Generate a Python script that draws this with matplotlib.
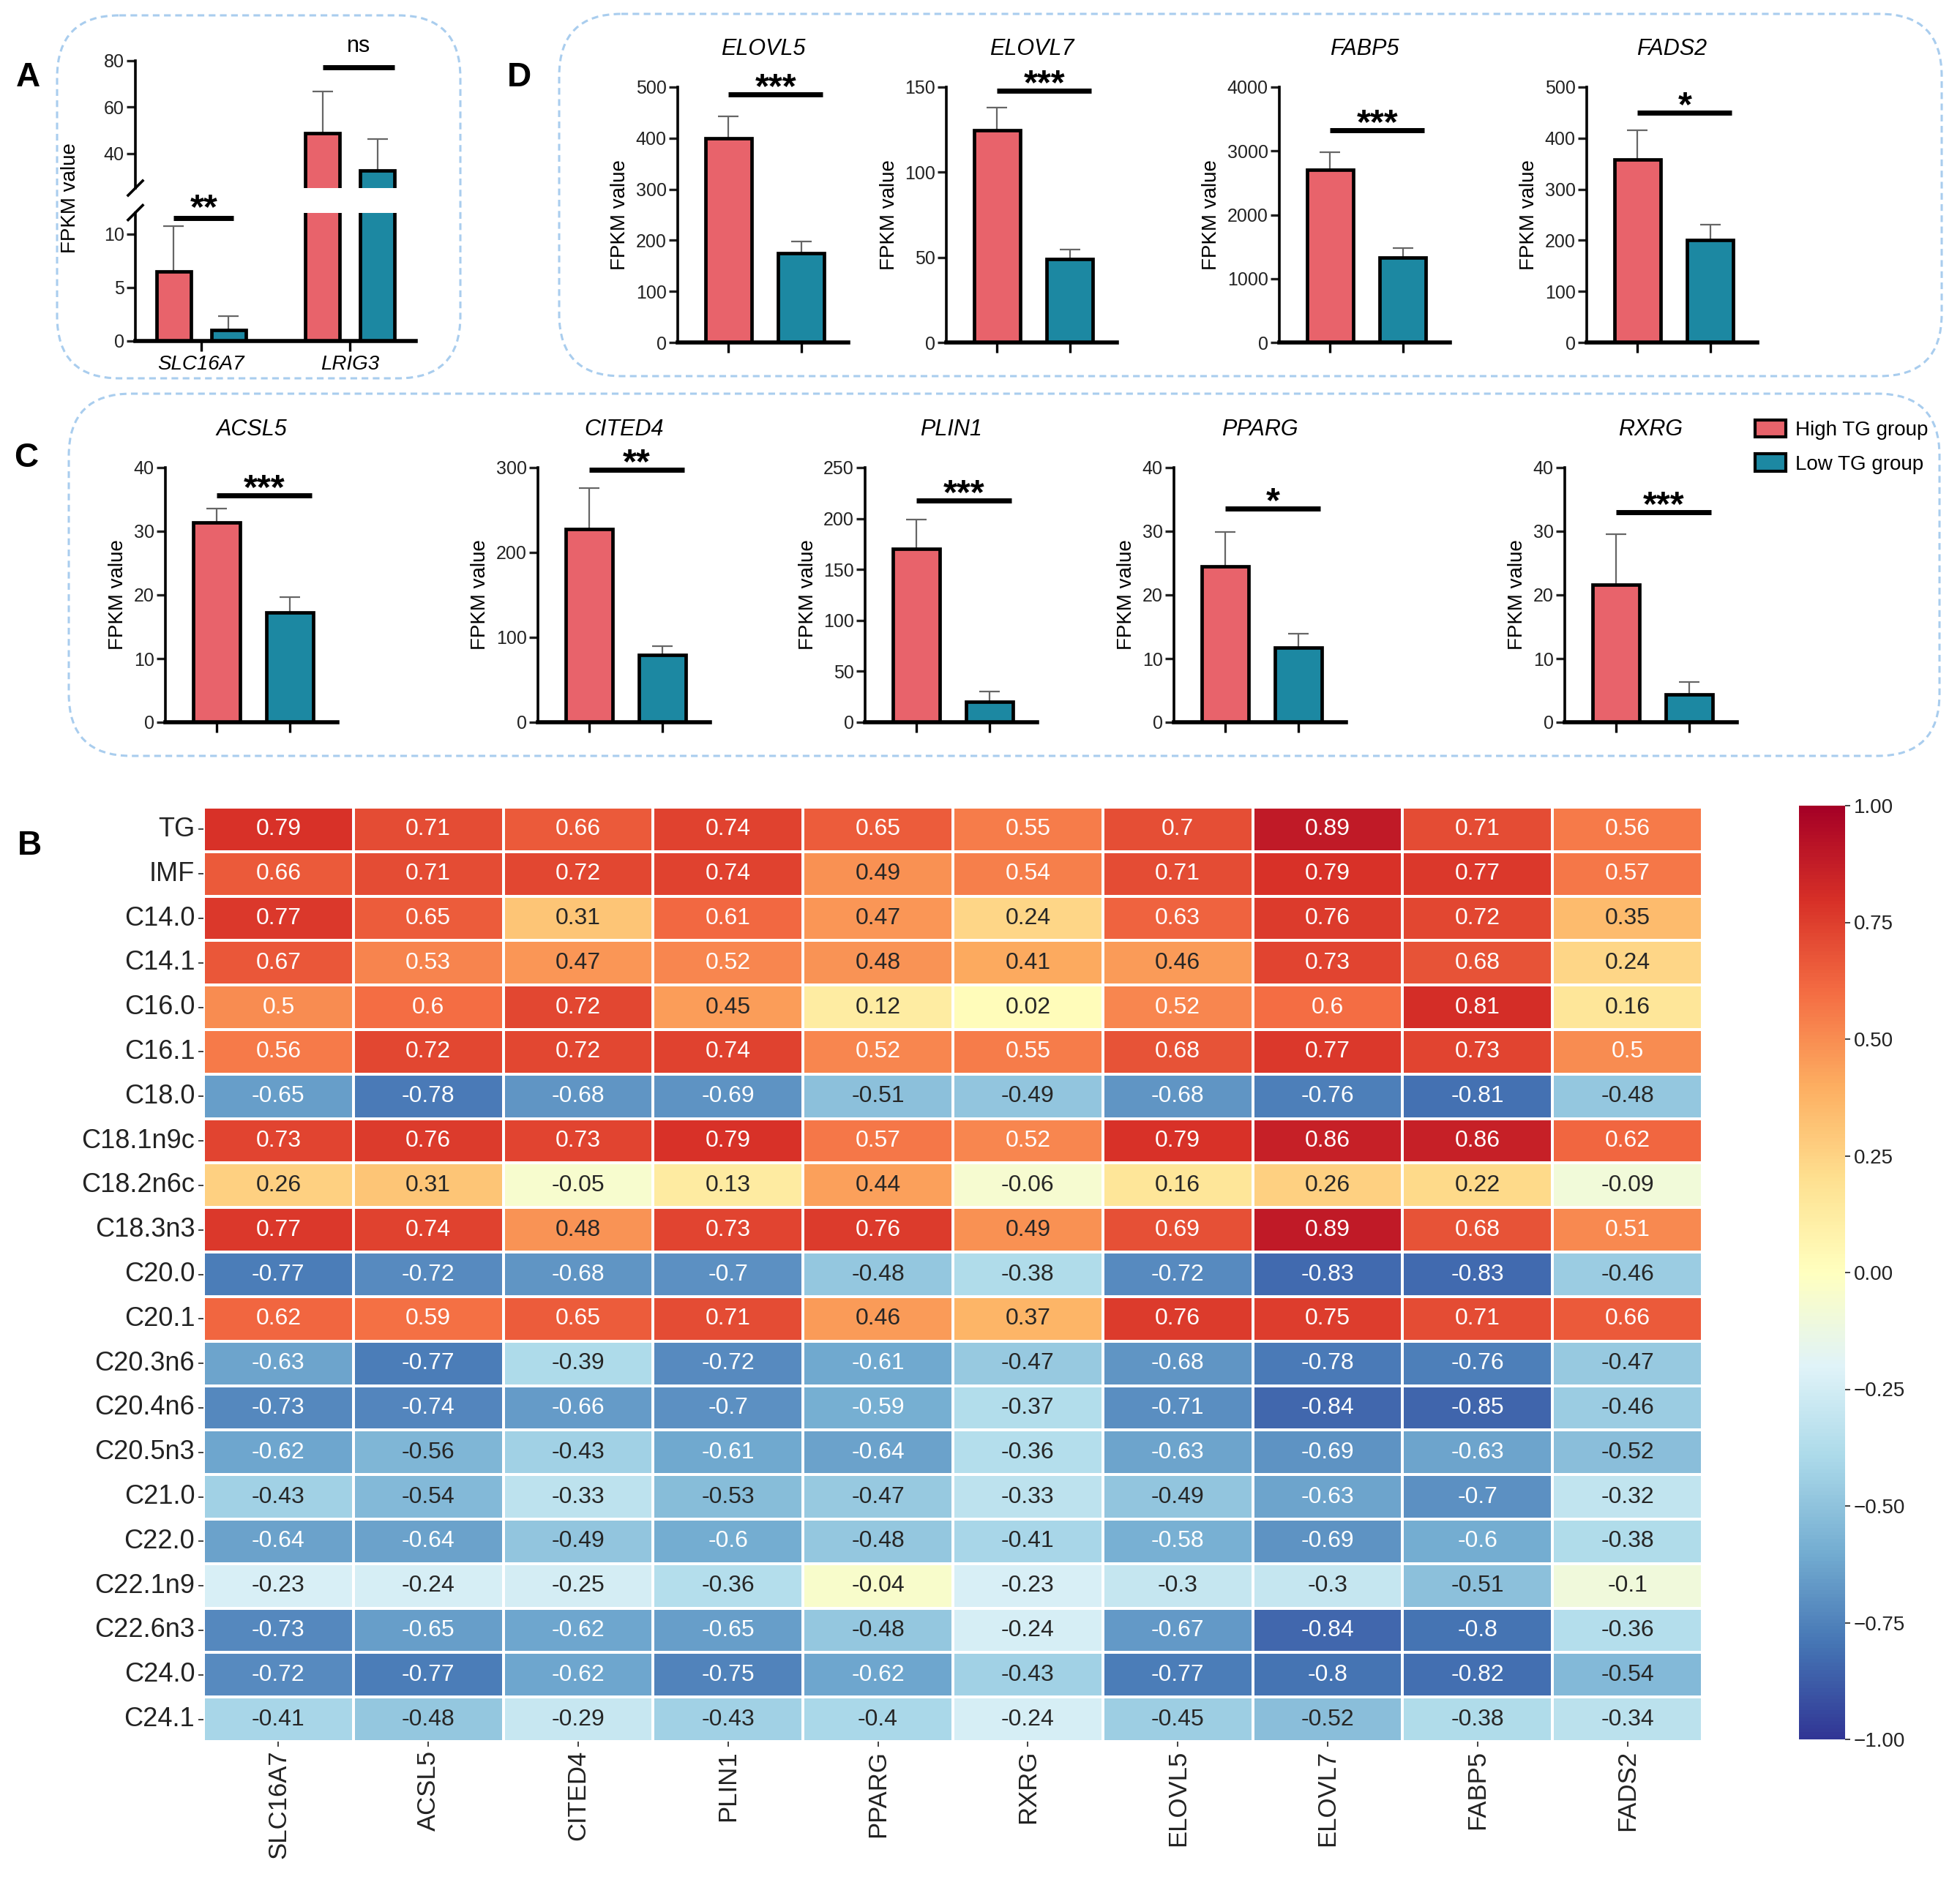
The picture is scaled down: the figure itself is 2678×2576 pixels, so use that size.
import numpy as np
import pandas as pd
import matplotlib
matplotlib.use('Agg')
import matplotlib.pyplot as plt
import seaborn as sns
from matplotlib.patches import FancyBboxPatch, Patch

plt.rcParams['font.family'] = ['Liberation Sans', 'DejaVu Sans']

RED = '#E8636B'
TEAL = '#1C88A2'
BOX = '#A9CDEE'

# ---- panel A: SLC16A7 / LRIG3 (broken axis)
genes_A = ['SLC16A7', 'LRIG3']
high_A = [6.5, 48.7]
high_err_A = [4.2, 17.9]
low_A = [1.0, 32.7]
low_err_A = [1.3, 13.5]

# ---- panel D
genes_D = ['ELOVL5', 'ELOVL7', 'FABP5', 'FADS2']
high_D = [400, 124.5, 2700, 358]
high_err_D = [42, 13.5, 285, 58]
low_D = [175, 49, 1325, 201]
low_err_D = [22, 5.5, 150, 30]
ymax_D = [500, 150, 4000, 500]
ystep_D = [100, 50, 1000, 100]
sig_D = ['***', '***', '***', '*']
sig_y_D = [486, 148, 3326, 450]

# ---- panel C
genes_C = ['ACSL5', 'CITED4', 'PLIN1', 'PPARG', 'RXRG']
high_C = [31.4, 228, 170.5, 24.5, 21.6]
high_err_C = [2.2, 48, 28.5, 5.4, 7.9]
low_C = [17.2, 79.5, 20, 11.7, 4.4]
low_err_C = [2.4, 10, 10.5, 2.2, 1.9]
ymax_C = [40, 300, 250, 40, 40]
ystep_C = [10, 100, 50, 10, 10]
sig_C = ['***', '**', '***', '*', '***']
sig_y_C = [35.6, 297.5, 217.7, 33.6, 33]

# ---- panel B: correlation heatmap
traits = ['TG', 'IMF', 'C14.0', 'C14.1', 'C16.0', 'C16.1', 'C18.0', 'C18.1n9c',
          'C18.2n6c', 'C18.3n3', 'C20.0', 'C20.1', 'C20.3n6', 'C20.4n6', 'C20.5n3',
          'C21.0', 'C22.0', 'C22.1n9', 'C22.6n3', 'C24.0', 'C24.1']
genes_B = ['SLC16A7', 'ACSL5', 'CITED4', 'PLIN1', 'PPARG', 'RXRG',
           'ELOVL5', 'ELOVL7', 'FABP5', 'FADS2']
corr = [
    [0.79, 0.71, 0.66, 0.74, 0.65, 0.55, 0.7, 0.89, 0.71, 0.56],
    [0.66, 0.71, 0.72, 0.74, 0.49, 0.54, 0.71, 0.79, 0.77, 0.57],
    [0.77, 0.65, 0.31, 0.61, 0.47, 0.24, 0.63, 0.76, 0.72, 0.35],
    [0.67, 0.53, 0.47, 0.52, 0.48, 0.41, 0.46, 0.73, 0.68, 0.24],
    [0.5, 0.6, 0.72, 0.45, 0.12, 0.02, 0.52, 0.6, 0.81, 0.16],
    [0.56, 0.72, 0.72, 0.74, 0.52, 0.55, 0.68, 0.77, 0.73, 0.5],
    [-0.65, -0.78, -0.68, -0.69, -0.51, -0.49, -0.68, -0.76, -0.81, -0.48],
    [0.73, 0.76, 0.73, 0.79, 0.57, 0.52, 0.79, 0.86, 0.86, 0.62],
    [0.26, 0.31, -0.05, 0.13, 0.44, -0.06, 0.16, 0.26, 0.22, -0.09],
    [0.77, 0.74, 0.48, 0.73, 0.76, 0.49, 0.69, 0.89, 0.68, 0.51],
    [-0.77, -0.72, -0.68, -0.7, -0.48, -0.38, -0.72, -0.83, -0.83, -0.46],
    [0.62, 0.59, 0.65, 0.71, 0.46, 0.37, 0.76, 0.75, 0.71, 0.66],
    [-0.63, -0.77, -0.39, -0.72, -0.61, -0.47, -0.68, -0.78, -0.76, -0.47],
    [-0.73, -0.74, -0.66, -0.7, -0.59, -0.37, -0.71, -0.84, -0.85, -0.46],
    [-0.62, -0.56, -0.43, -0.61, -0.64, -0.36, -0.63, -0.69, -0.63, -0.52],
    [-0.43, -0.54, -0.33, -0.53, -0.47, -0.33, -0.49, -0.63, -0.7, -0.32],
    [-0.64, -0.64, -0.49, -0.6, -0.48, -0.41, -0.58, -0.69, -0.6, -0.38],
    [-0.23, -0.24, -0.25, -0.36, -0.04, -0.23, -0.3, -0.3, -0.51, -0.1],
    [-0.73, -0.65, -0.62, -0.65, -0.48, -0.24, -0.67, -0.84, -0.8, -0.36],
    [-0.72, -0.77, -0.62, -0.75, -0.62, -0.43, -0.77, -0.8, -0.82, -0.54],
    [-0.41, -0.48, -0.29, -0.43, -0.4, -0.24, -0.45, -0.52, -0.38, -0.34],
]
cbar_ticks = [-1.0, -0.75, -0.5, -0.25, 0.0, 0.25, 0.5, 0.75, 1.0]

W, H = 2678, 2576
fig = plt.figure(figsize=(W / 100, H / 100), dpi=100)


def px_axes(left, top, right, bottom, **kw):
    return fig.add_axes([left / W, 1 - bottom / H, (right - left) / W, (bottom - top) / H], **kw)


# background layer: dashed rounded boxes + panel letters
bg = px_axes(0, 0, W, H, zorder=-5)
bg.set_xlim(0, W)
bg.set_ylim(H, 0)
bg.axis('off')
for (x0, y0, x1, y1) in [(78, 21, 629, 517), (764, 19, 2653, 514), (94, 538, 2650, 1033)]:
    bg.add_patch(FancyBboxPatch((x0, y0), x1 - x0, y1 - y0,
                                boxstyle='round,pad=0,rounding_size=85',
                                fill=False, ec=BOX, lw=2.2, ls=(0, (3, 2))))
for letter, (lx, ly) in {'A': (38, 106), 'D': (709, 106), 'C': (36, 626), 'B': (40, 1156)}.items():
    bg.text(lx, ly, letter, fontsize=33, fontweight='bold', ha='center', va='center')


def style_bar_ax(ax):
    for s in ['top', 'right']:
        ax.spines[s].set_visible(False)
    ax.spines['left'].set_linewidth(2.6)
    ax.spines['bottom'].set_linewidth(4)
    ax.tick_params(axis='y', length=9, width=2.4, labelsize=18, pad=2, colors='#222')
    ax.tick_params(axis='x', length=10, width=2.4, labelsize=20, pad=4)


def bar_panel(ax, high, high_err, low, low_err, ymax, step, title, sig, sig_y):
    ax.errorbar([0, 1], [high, low], yerr=[[0, 0], [high_err, low_err]], fmt='none',
                ecolor='#666666', elinewidth=1.6, capsize=10, capthick=1.6, zorder=1)
    ax.bar([0, 1], [high, low], width=0.64, color=[RED, TEAL], edgecolor='k',
           linewidth=3.4, zorder=2)
    ax.set_xlim(-0.7, 1.65)
    ax.set_ylim(0, ymax)
    ax.set_yticks(np.arange(0, ymax + step / 2, step))
    ax.set_xticks([0, 1])
    ax.set_xticklabels([])
    ax.plot([0, 1.3], [sig_y, sig_y], color='k', lw=5, clip_on=False, solid_capstyle='butt')
    ax.annotate(sig, xy=(0.65, sig_y), xytext=(0, -3), textcoords='offset points',
                ha='center', va='baseline', fontsize=35, fontweight='bold', annotation_clip=False)
    ax.set_title(title, style='italic', fontsize=22, pad=32)
    ax.set_ylabel('FPKM value', fontsize=20, labelpad=6)
    style_bar_ax(ax)


# ---- panel D axes
D_left = [926, 1293, 1748, 2168]
for i, g in enumerate(genes_D):
    ax = px_axes(D_left[i], 119, D_left[i] + 233, 468)
    bar_panel(ax, high_D[i], high_err_D[i], low_D[i], low_err_D[i], ymax_D[i], ystep_D[i],
              g, sig_D[i], sig_y_D[i])

# ---- panel C axes
C_left = [226, 735, 1182, 1604, 2138]
for i, g in enumerate(genes_C):
    ax = px_axes(C_left[i], 639, C_left[i] + 235, 987)
    bar_panel(ax, high_C[i], high_err_C[i], low_C[i], low_err_C[i], ymax_C[i], ystep_C[i],
              g, sig_C[i], sig_y_C[i])

fig.legend(handles=[Patch(fc=RED, ec='k', lw=3), Patch(fc=TEAL, ec='k', lw=3)],
           labels=['High TG group', 'Low TG group'], loc='upper left',
           bbox_to_anchor=(2384 / W, 1 - 560 / H), frameon=False, fontsize=20,
           handlelength=1.5, handleheight=0.9, handletextpad=0.5, labelspacing=0.7,
           borderpad=0)

# ---- panel A (broken y axis)
ax_hi = px_axes(185, 83, 568, 257)
ax_lo = px_axes(185, 290.5, 568, 465.5)
xA = np.arange(len(genes_A))
for ax, lims in ((ax_hi, (25, 80)), (ax_lo, (0, 12))):
    ax.errorbar(xA - 0.184, high_A, yerr=[[0, 0], high_err_A], fmt='none', ecolor='#666666',
                elinewidth=1.6, capsize=10, capthick=1.6, zorder=1)
    ax.errorbar(xA + 0.184, low_A, yerr=[[0, 0], low_err_A], fmt='none', ecolor='#666666',
                elinewidth=1.6, capsize=10, capthick=1.6, zorder=1)
    ax.bar(xA - 0.184, high_A, width=0.23, color=RED, edgecolor='k', linewidth=3.4, zorder=2)
    ax.bar(xA + 0.184, low_A, width=0.23, color=TEAL, edgecolor='k', linewidth=3.4, zorder=2)
    ax.set_ylim(*lims)
    ax.set_xlim(-0.44, 1.44)
    style_bar_ax(ax)
ax_hi.set_yticks([40, 60, 80])
ax_hi.spines['bottom'].set_visible(False)
ax_hi.set_xticks([])
ax_lo.set_yticks([0, 5, 10])
ax_lo.set_xticks(xA)
ax_lo.set_xticklabels(genes_A, style='italic')
# break marks
for ax, yb in ((ax_hi, 0), (ax_lo, 1)):
    bb = ax.get_position()
    dx = 10 / (bb.width * W)
    dy = 10 / (bb.height * H)
    ax.plot([-dx, dx], [yb - dy, yb + dy], transform=ax.transAxes, color='k', lw=2.6,
            clip_on=False)
ax_lo.plot([-0.184, 0.22], [11.5, 11.5], color='k', lw=5, clip_on=False, solid_capstyle='butt')
ax_lo.annotate('**', xy=(0.02, 11.5), xytext=(0, 0), textcoords='offset points', ha='center',
               va='baseline', fontsize=35, fontweight='bold', annotation_clip=False)
ax_hi.plot([0.816, 1.30], [77.2, 77.2], color='k', lw=5, clip_on=False, solid_capstyle='butt')
ax_hi.annotate('ns', xy=(1.06, 77.2), xytext=(0, 15), textcoords='offset points', ha='center',
               va='baseline', fontsize=22, annotation_clip=False)
fig.text(96 / W, 1 - 271 / H, 'FPKM value', rotation=90, fontsize=20, ha='center', va='center')

# ---- panel B heatmap
df = pd.DataFrame(corr, index=traits, columns=genes_B)
ax_b = px_axes(278, 1103, 2326, 2380)
cax = px_axes(2458, 1101, 2521, 2377)
sns.heatmap(df, ax=ax_b, cbar_ax=cax, cmap='RdYlBu_r', vmin=-1, vmax=1, annot=True,
            fmt='g', annot_kws={'size': 23}, linewidths=1.5, linecolor='white')
ax_b.tick_params(axis='y', labelsize=26, length=5, width=1.2, rotation=0, colors='#222')
ax_b.tick_params(axis='x', labelsize=25, length=5, width=1.2, rotation=90, colors='#222')
cax.set_yticks(cbar_ticks)
cax.set_yticklabels([f'{t:.2f}'.replace('-', '\u2212') for t in cbar_ticks])
cax.tick_params(labelsize=20, length=5, width=1.2, colors='#222')

fig.savefig('out.png', dpi=100)
